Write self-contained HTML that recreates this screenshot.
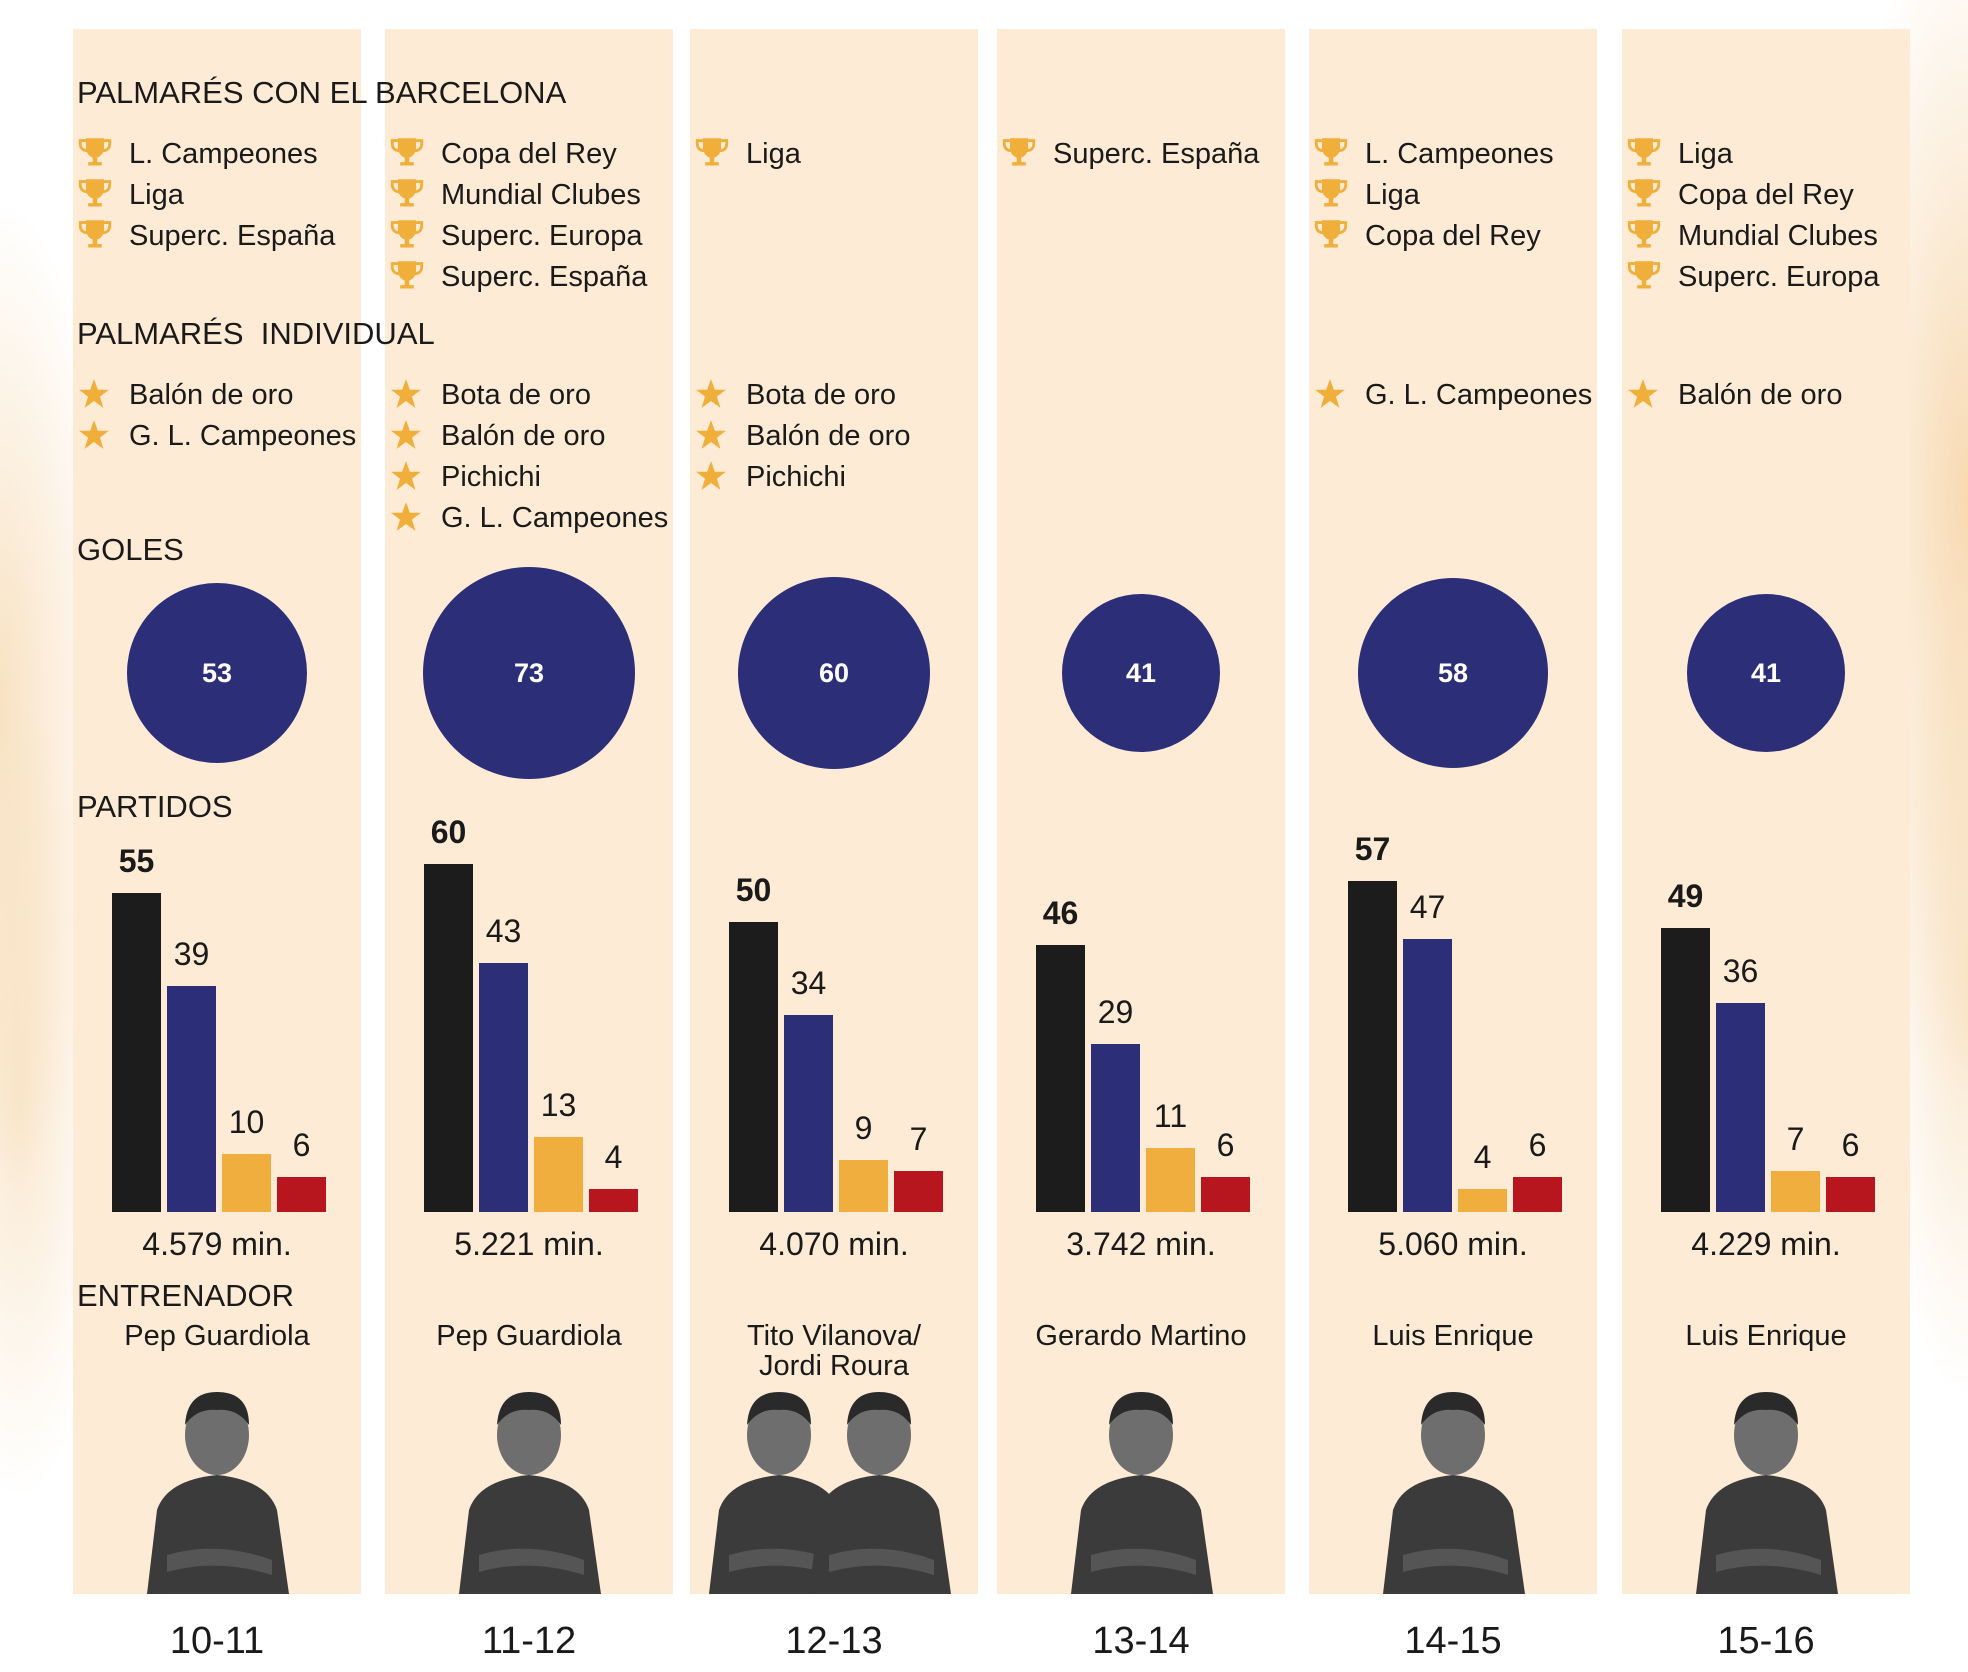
<!DOCTYPE html>
<html><head><meta charset="utf-8">
<style>
html,body{margin:0;padding:0}
body{width:1968px;height:1672px;position:relative;overflow:hidden;background:#fff;font-family:"Liberation Sans",sans-serif;color:#1a1a1a}
.bg{position:absolute;inset:0;background:
radial-gradient(ellipse 120px 500px at 0px 700px,rgba(240,190,120,.45),rgba(240,190,120,0) 100%),
radial-gradient(ellipse 90px 400px at 20px 1100px,rgba(240,190,120,.35),rgba(240,190,120,0) 100%),
radial-gradient(ellipse 140px 600px at 1968px 500px,rgba(240,180,100,.5),rgba(240,180,100,0) 100%),
radial-gradient(ellipse 90px 400px at 1968px 1000px,rgba(240,190,120,.35),rgba(240,190,120,0) 100%);}
.p{position:absolute;top:29px;height:1565px;width:288px;background:#fdebd6}
.t{position:absolute;white-space:nowrap;line-height:40px;height:40px}
.it{font-size:29px}
.hd{font-size:31px}
.bar{position:absolute}
.c{position:absolute;border-radius:50%;background:#2c2e78;color:#fff;font-weight:bold;font-size:27px;display:flex;align-items:center;justify-content:center}
</style></head><body>
<div class="bg"></div>
<div id="root"></div>
<script>
const L=[73,385,690,997,1309,1622];
const D=[
{tr:["L. Campeones","Liga","Superc. España"],ind:["Balón de oro","G. L. Campeones"],g:53,r:90,b:[55,39,10,6],m:"4.579 min.",c:["Pep Guardiola"],y:"10-11"},
{tr:["Copa del Rey","Mundial Clubes","Superc. Europa","Superc. España"],ind:["Bota de oro","Balón de oro","Pichichi","G. L. Campeones"],g:73,r:106,b:[60,43,13,4],m:"5.221 min.",c:["Pep Guardiola"],y:"11-12"},
{tr:["Liga"],ind:["Bota de oro","Balón de oro","Pichichi"],g:60,r:96,b:[50,34,9,7],m:"4.070 min.",c:["Tito Vilanova/","Jordi Roura"],y:"12-13"},
{tr:["Superc. España"],ind:[],g:41,r:79,b:[46,29,11,6],m:"3.742 min.",c:["Gerardo Martino"],y:"13-14"},
{tr:["L. Campeones","Liga","Copa del Rey"],ind:["G. L. Campeones"],g:58,r:95,b:[57,47,4,6],m:"5.060 min.",c:["Luis Enrique"],y:"14-15"},
{tr:["Liga","Copa del Rey","Mundial Clubes","Superc. Europa"],ind:["Balón de oro"],g:41,r:79,b:[49,36,7,6],m:"4.229 min.",c:["Luis Enrique"],y:"15-16"}];
const COL=["#1c1c1c","#2c2e78","#f0ae3e","#b8161f"];
const trophy='<svg width="34" height="36" viewBox="0 0 30 30"><path d="M7 2h16v8c0 5-3 8-6 9v4h4v3H9v-3h4v-4c-3-1-6-4-6-9z" fill="#f0ae3a"/><path d="M7 4H2v3c0 4 3 6 6 6M23 4h5v3c0 4-3 6-6 6" fill="none" stroke="#f0ae3a" stroke-width="2.5"/></svg>';
const star='<svg width="32" height="32" viewBox="0 0 30 30"><polygon points="15,1 18.6,11 29,11 20.6,17.5 23.8,28 15,21.6 6.2,28 9.4,17.5 1,11 11.4,11" fill="#f0ae3a"/></svg>';
let h='';
const T=(x,y,txt,cls,extra)=>{h+=`<div class="t ${cls||''}" style="left:${x}px;top:${y-20}px;${extra||''}">${txt}</div>`};
L.forEach((l,i)=>{h+=`<div class="p" style="left:${l}px"></div>`});
T(77,93,"PALMARÉS CON EL BARCELONA","hd");
T(77,334,"PALMARÉS&nbsp; INDIVIDUAL","hd");
T(77,550,"GOLES","hd");
T(77,807,"PARTIDOS","hd");
T(77,1296,"ENTRENADOR","hd","font-size:31px");
L.forEach((l,i)=>{
 const d=D[i],cx=l+144;
 d.tr.forEach((s,k)=>{const y=154+41*k;h+=`<div style="position:absolute;left:${l+5}px;top:${y-19}px">${trophy}</div>`;T(l+56,y,s,"it")});
 d.ind.forEach((s,k)=>{const y=395+41*k;h+=`<div style="position:absolute;left:${l+5}px;top:${y-17}px">${star}</div>`;T(l+56,y,s,"it")});
 h+=`<div class="c" style="left:${cx-d.r}px;top:${673-d.r}px;width:${2*d.r}px;height:${2*d.r}px">${d.g}</div>`;
 d.b.forEach((v,k)=>{const x=l+39+55*k,ht=Math.round(v*5.8);
  h+=`<div class="bar" style="left:${x}px;top:${1212-ht}px;width:49px;height:${ht}px;background:${COL[k]}"></div>`;
  h+=`<div class="t" style="left:${x-10}px;width:69px;text-align:center;top:${1212-ht-52}px;font-size:32px;${k==0?'font-weight:bold':''}">${v}</div>`;});
 h+=`<div class="t" style="left:${l}px;width:288px;text-align:center;top:${1224}px;font-size:32px">${d.m}</div>`;
 d.c.forEach((s,k)=>{h+=`<div class="t" style="left:${l}px;width:288px;text-align:center;top:${1318+k*30}px;font-size:29px;line-height:36px">${s}</div>`});
 h+=`<div class="t" style="left:${l}px;width:288px;text-align:center;top:${1619}px;font-size:38px;line-height:44px">${d.y}</div>`;
 const heads= i==2?[[cx-55,cx-90],[cx+45,cx+20]]:[[cx,cx-70]];
 heads.forEach(([hx,bx])=>{
  h+=`<svg style="position:absolute;left:${hx-90}px;top:1380px" width="180" height="214" viewBox="0 0 180 214"><path d="M20 214 L30 130 Q40 100 90 95 Q140 100 150 130 L162 214Z" fill="#3b3b3b"/><ellipse cx="90" cy="55" rx="32" ry="40" fill="#6e6e6e"/><path d="M58 45 Q60 12 90 12 Q122 12 122 45 Q110 28 90 30 Q70 28 58 45Z" fill="#2a2a2a"/><path d="M40 175 Q90 160 145 180 L145 195 Q90 178 40 192Z" fill="#555"/></svg>`;
 });
});
document.getElementById('root').innerHTML=h;
</script>
</body></html>
